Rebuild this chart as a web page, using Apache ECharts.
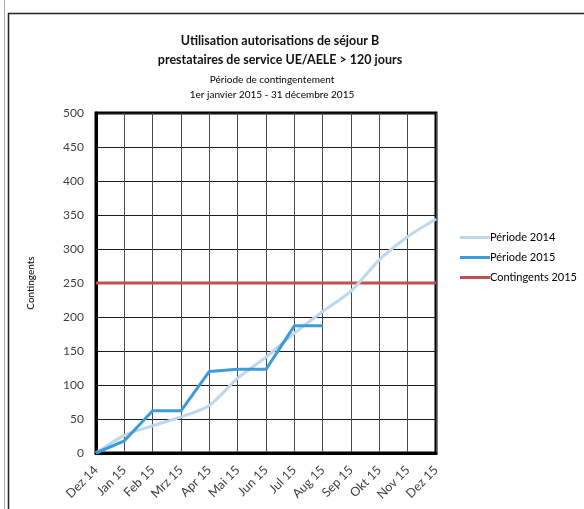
<!DOCTYPE html>
<html lang="fr">
<head>
    <meta charset="UTF-8" />
    <title>Utilisation autorisations de séjour B</title>
    <script src="https://cdn.jsdelivr.net/npm/echarts@6/dist/echarts.min.js"></script>
    <style>
        html, body { margin: 0; padding: 0; background: #fff; }
        #chart { width: 584px; height: 509px; }
    </style>
</head>
<body>
    <div id="chart"></div>

    <script>
        // data
        const months = ["Dez 14", "Jan 15", "Feb 15", "Mrz 15", "Apr 15", "Mai 15", "Jun 15",
            "Jul 15", "Aug 15", "Sep 15", "Okt 15", "Nov 15", "Dez 15"];
        const periode2014 = [0, 26, 40, 53, 70, 110, 141, 176, 208, 238, 284, 318, 344];
        const periode2015 = [0, 18, 62, 62, 120, 123, 123, 187, 187];
        const contingents2015 = [250, 250, 250, 250, 250, 250, 250, 250, 250, 250, 250, 250, 250];

        const font = "Lato";

        let myChart = echarts.init(document.getElementById("chart"), null, { renderer: "canvas" });

        let option = {
            animation: false,
            textStyle: { fontFamily: font },
            title: [
                {
                    text: "Utilisation autorisations de séjour B\nprestataires de service UE/AELE > 120 jours",
                    left: 275,
                    top: 26,
                    textAlign: "center",
                    textStyle: { fontFamily: font, fontSize: 12.5, fontWeight: "bold", color: "#111", lineHeight: 19 },
                },
                {
                    text: "Période de contingentement\n1er janvier 2015 - 31 décembre 2015",
                    left: 267,
                    top: 67,
                    textAlign: "center",
                    textStyle: { fontFamily: font, fontSize: 10, fontWeight: "normal", color: "#000", lineHeight: 15 },
                },
            ],
            legend: {
                orient: "vertical",
                left: 455,
                top: 227,
                itemWidth: 30,
                itemHeight: 3,
                itemGap: 9,
                icon: "rect",
                textStyle: { fontFamily: font, fontSize: 11, color: "#000", padding: [0, 0, 0, -5] },
                data: ["Période 2014", "Période 2015", "Contingents 2015"],
            },
            grid: {
                left: 96,
                right: 148,
                top: 113,
                bottom: 56,
                show: true,
                borderColor: "#000",
                borderWidth: 3,
            },
            xAxis: {
                type: "category",
                data: months,
                boundaryGap: false,
                axisLine: { show: true, lineStyle: { color: "#000", width: 3 } },
                axisTick: { show: false },
                splitLine: { show: true, lineStyle: { color: "#4a4a4a", width: 1 } },
                axisLabel: { rotate: 45, fontSize: 12.5, color: "#404040", margin: 15, interval: 0 },
            },
            yAxis: {
                type: "value",
                min: 0,
                max: 500,
                interval: 50,
                name: "Contingents",
                nameLocation: "middle",
                nameGap: 60,
                nameTextStyle: { fontFamily: font, fontSize: 10, color: "#000" },
                axisLine: { show: true, lineStyle: { color: "#000", width: 3 } },
                axisTick: { show: false },
                splitLine: { show: true, lineStyle: { color: "#1a1a1a", width: 1 } },
                axisLabel: { fontSize: 12, color: "#404040", margin: 12 },
            },
            series: [
                {
                    name: "Période 2014",
                    type: "line",
                    data: periode2014,
                    smooth: 0.25,
                    symbol: "none",
                    color: "#BDD7EE",
                    lineStyle: { width: 3, color: "#BDD7EE" },
                    z: 3,
                },
                {
                    name: "Période 2015",
                    type: "line",
                    data: periode2015,
                    symbol: "none",
                    color: "#3E9BDA",
                    lineStyle: { width: 3, color: "#3E9BDA" },
                    z: 4,
                },
                {
                    name: "Contingents 2015",
                    type: "line",
                    data: contingents2015,
                    symbol: "none",
                    color: "#C0504D",
                    lineStyle: { width: 3, color: "#C0504D" },
                    z: 2,
                },
            ],
            // frame lines round the chart (spreadsheet border)
            graphic: [
                { type: "line", shape: { x1: 4.5, y1: 0, x2: 4.5, y2: 509 }, style: { stroke: "#aaa", lineWidth: 1 } },
                { type: "line", shape: { x1: 8.5, y1: 13, x2: 8.5, y2: 509 }, style: { stroke: "#222", lineWidth: 1.5 } },
                { type: "line", shape: { x1: 8, y1: 13.5, x2: 584, y2: 13.5 }, style: { stroke: "#222", lineWidth: 1.5 } },
            ],
        };

        myChart.setOption(option);
    </script>
</body>
</html>
